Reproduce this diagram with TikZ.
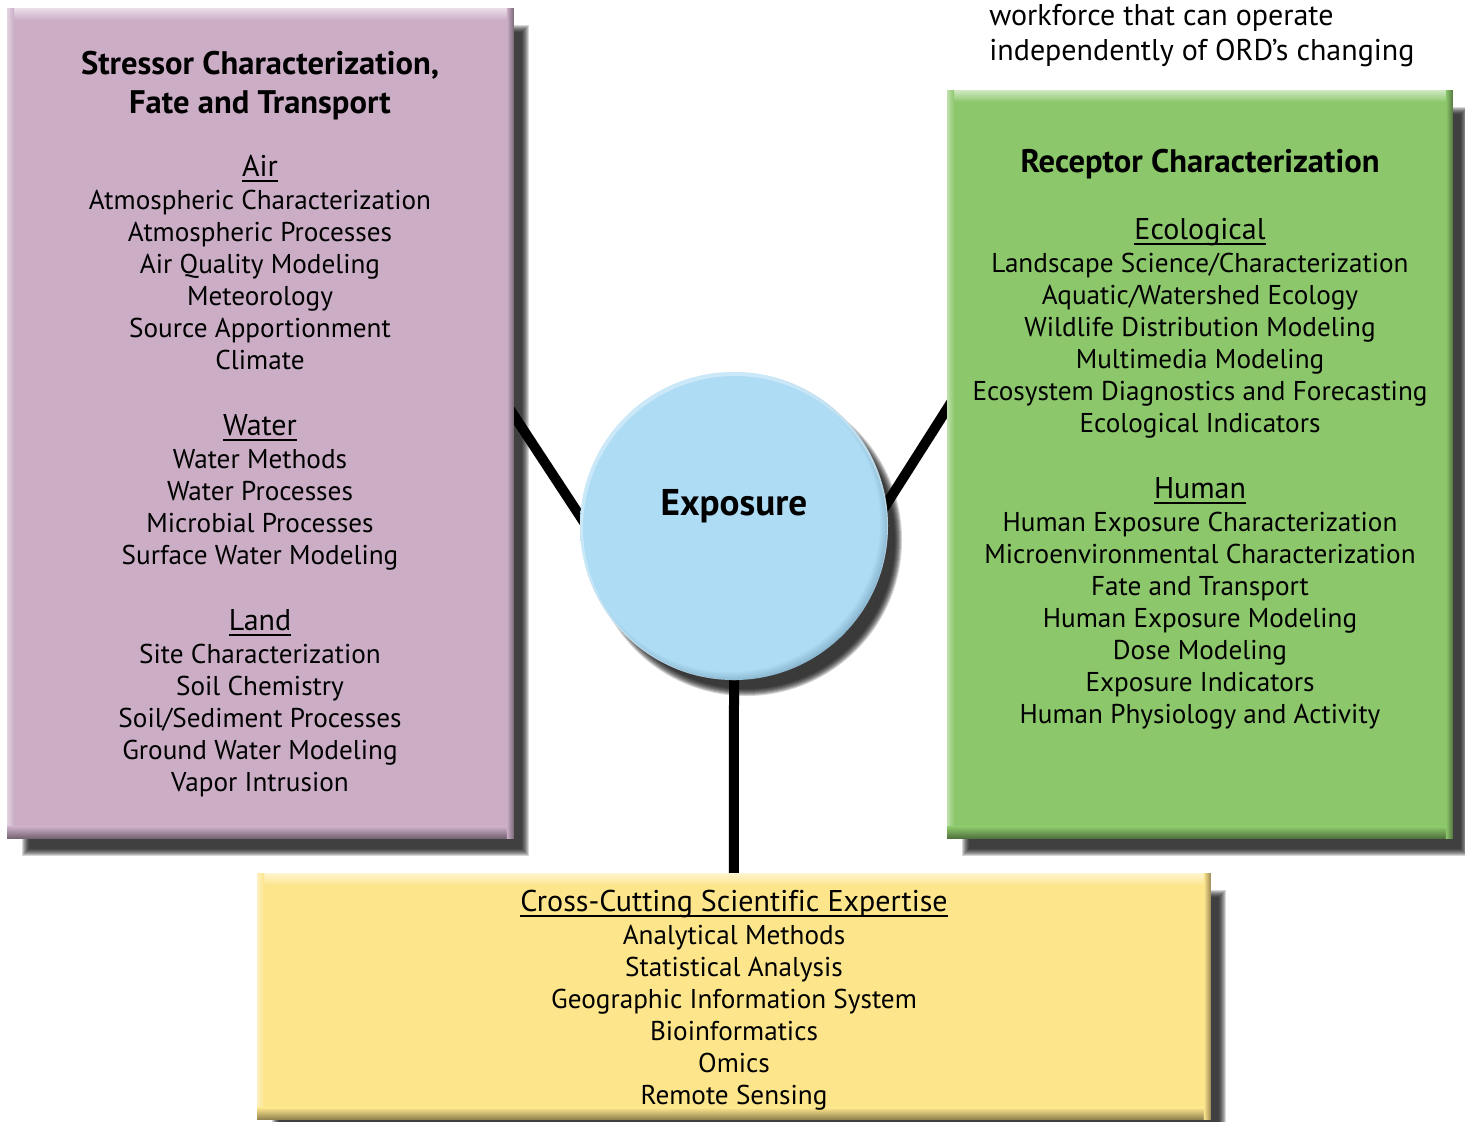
\documentclass[tikz,border=0pt]{standalone}
\usepackage{fontspec}
\setmainfont{PT Sans}[Ligatures=NoCommon]
\usetikzlibrary{calc}
\definecolor{stresspink}{HTML}{CBAEC6}
\definecolor{recgreen}{HTML}{8CC76B}
\definecolor{crossyellow}{HTML}{FDE58C}
\definecolor{expblue}{HTML}{AEDCF4}
\definecolor{expdark}{HTML}{6E97B2}
\pgfdeclarelayer{shadow}
\pgfdeclarelayer{connectors}
\pgfsetlayers{shadow,connectors,main}
\pgfdeclareradialshading{exprim}{\pgfpoint{-1.5bp}{1.5bp}}{color(0bp)=(expblue); color(24.3bp)=(expblue); color(27bp)=(expdark); color(50bp)=(expdark)}
\newcommand\ulhead[1]{\setbox0\hbox{#1}\rlap{\rule[-2.8pt]{\wd0}{0.9pt}}\box0}
\newcommand\boxshadow[1]{%
  \begin{pgfonlayer}{shadow}
    \foreach \k in {0,...,7}{\fill[black,opacity=0.16] ([shift={(15+\k,17+\k)}]#1.north west) rectangle ([shift={(15-\k,17-\k)}]#1.south east);}
  \end{pgfonlayer}}
\newcommand\bevel[2]{%
  \shade[top color=#2!40!white, bottom color=#2] (#1.north west) rectangle ([shift={(0,12)}]#1.north east);
  \shade[left color=#2!55!white, right color=#2] (#1.north west) rectangle ([shift={(7,0)}]#1.south west);
  \shade[top color=#2, bottom color=#2!55!black] ([shift={(0,-12)}]#1.south west) rectangle (#1.south east);
  \shade[left color=#2, right color=#2!60!black] ([shift={(-7,0)}]#1.north east) rectangle (#1.south east);
}
\begin{document}
\begin{tikzpicture}[x=0.5pt,y=-0.5pt,
  panel/.style={rectangle, inner sep=0pt, anchor=north west},
  item/.style={font=\fontsize{13.6}{16}\selectfont, inner sep=0pt, anchor=base},
  head/.style={item, font=\fontsize{15}{18}\selectfont},
  titletext/.style={font=\bfseries\fontsize{16.3}{19}\selectfont, inner sep=0pt, anchor=base},
  conn/.style={line width=5pt, black},
]
\useasboundingbox (0,0) rectangle (1465,1121);

% panels
\node[panel, fill=stresspink, minimum width=253pt, minimum height=415pt] (stress) at (7,8) {};
\node[panel, fill=recgreen, minimum width=252.5pt, minimum height=374pt] (receptor) at (947,90) {};
\node[panel, fill=crossyellow, minimum width=476.5pt, minimum height=123pt] (cross) at (257,873) {};
\boxshadow{stress}\boxshadow{receptor}\boxshadow{cross}
\bevel{stress}{stresspink}
\bevel{receptor}{recgreen}
\bevel{cross}{crossyellow}

% exposure circle
\node[circle, minimum size=154pt, inner sep=0pt] (exposure) at (734,526) {};
\begin{pgfonlayer}{shadow}
  \foreach \k in {0,...,7}{\fill[black,opacity=0.17] ([shift={(12,14)}]exposure.center) circle[radius={78pt-0.5pt*\k}];}
\end{pgfonlayer}
\shade[shading=exprim] (exposure.center) circle[radius=77pt];
\begin{scope}
  \clip (exposure.center) circle[radius=77pt];
  \draw[white, opacity=0.35, line width=2pt] ([shift={(1,2)}]exposure.center) circle[radius=77pt];
\end{scope}
\node[titletext, font=\bfseries\fontsize{18.6}{21}\selectfont] (exposurelabel) at (734,515) {Exposure};

% connectors
\coordinate (ljoin) at (597,542);
\coordinate (rjoin) at (870,530);
\begin{pgfonlayer}{connectors}
  \draw[conn] ([xshift=-6]stress.east |- 0,397) -- (ljoin);
  \draw[conn] ([xshift=6]receptor.west |- 0,390) -- (rjoin);
  \draw[conn] (exposure.south) -- (cross.north);
\end{pgfonlayer}

% stressor text
\foreach \yy/\txt [count=\i] in {74/{Stressor Characterization,}, 113/{Fate and Transport}}
  \node[titletext] (stresstitle\i) at (260,\yy) {\txt};
\foreach \yy/\txt [count=\i] in {176/Air, 435/Water, 630/Land}
  \node[head] (stresshead\i) at (260,\yy) {\ulhead{\txt}};
\foreach \yy/\txt [count=\i] in {209/{Atmospheric Characterization}, 241/{Atmospheric Processes}, 273/{Air Quality Modeling}, 305/{Meteorology}, 337/{Source Apportionment}, 369/{Climate}, 468/{Water Methods}, 500/{Water Processes}, 532/{Microbial Processes}, 564/{Surface Water Modeling}, 663/{Site Characterization}, 695/{Soil Chemistry}, 727/{Soil/Sediment Processes}, 759/{Ground Water Modeling}, 791/{Vapor Intrusion}}
  \node[item] (stressitem\i) at (260,\yy) {\txt};

% receptor text
\node[titletext] (receptortitle) at (1200,172) {Receptor Characterization};
\foreach \yy/\txt [count=\i] in {239/Ecological, 498/Human}
  \node[head] (receptorhead\i) at (1200,\yy) {\ulhead{\txt}};
\foreach \yy/\txt [count=\i] in {272/{Landscape Science/Characterization}, 304/{Aquatic/Watershed Ecology}, 336/{Wildlife Distribution Modeling}, 368/{Multimedia Modeling}, 400/{Ecosystem Diagnostics and Forecasting}, 432/{Ecological Indicators}, 531/{Human Exposure Characterization}, 563/{Microenvironmental Characterization}, 595/{Fate and Transport}, 627/{Human Exposure Modeling}, 659/{Dose Modeling}, 691/{Exposure Indicators}, 723/{Human Physiology and Activity}}
  \node[item] (receptoritem\i) at (1200,\yy) {\txt};

% cross-cutting text
\node[head] (crosshead) at (734,911) {\ulhead{Cross-Cutting Scientific Expertise}};
\foreach \yy/\txt [count=\i] in {944/{Analytical Methods}, 976/{Statistical Analysis}, 1008/{Geographic Information System}, 1040/{Bioinformatics}, 1072/{Omics}, 1104/{Remote Sensing}}
  \node[item] (crossitem\i) at (734,\yy) {\txt};

% top-right running text
\node[item, anchor=base west, font=\fontsize{15}{18}\selectfont] (note1) at (989,25) {workforce that can operate};
\node[item, anchor=base west, font=\fontsize{15}{18}\selectfont] (note2) at (989,60) {independently of ORD’s changing};
\end{tikzpicture}
\end{document}
